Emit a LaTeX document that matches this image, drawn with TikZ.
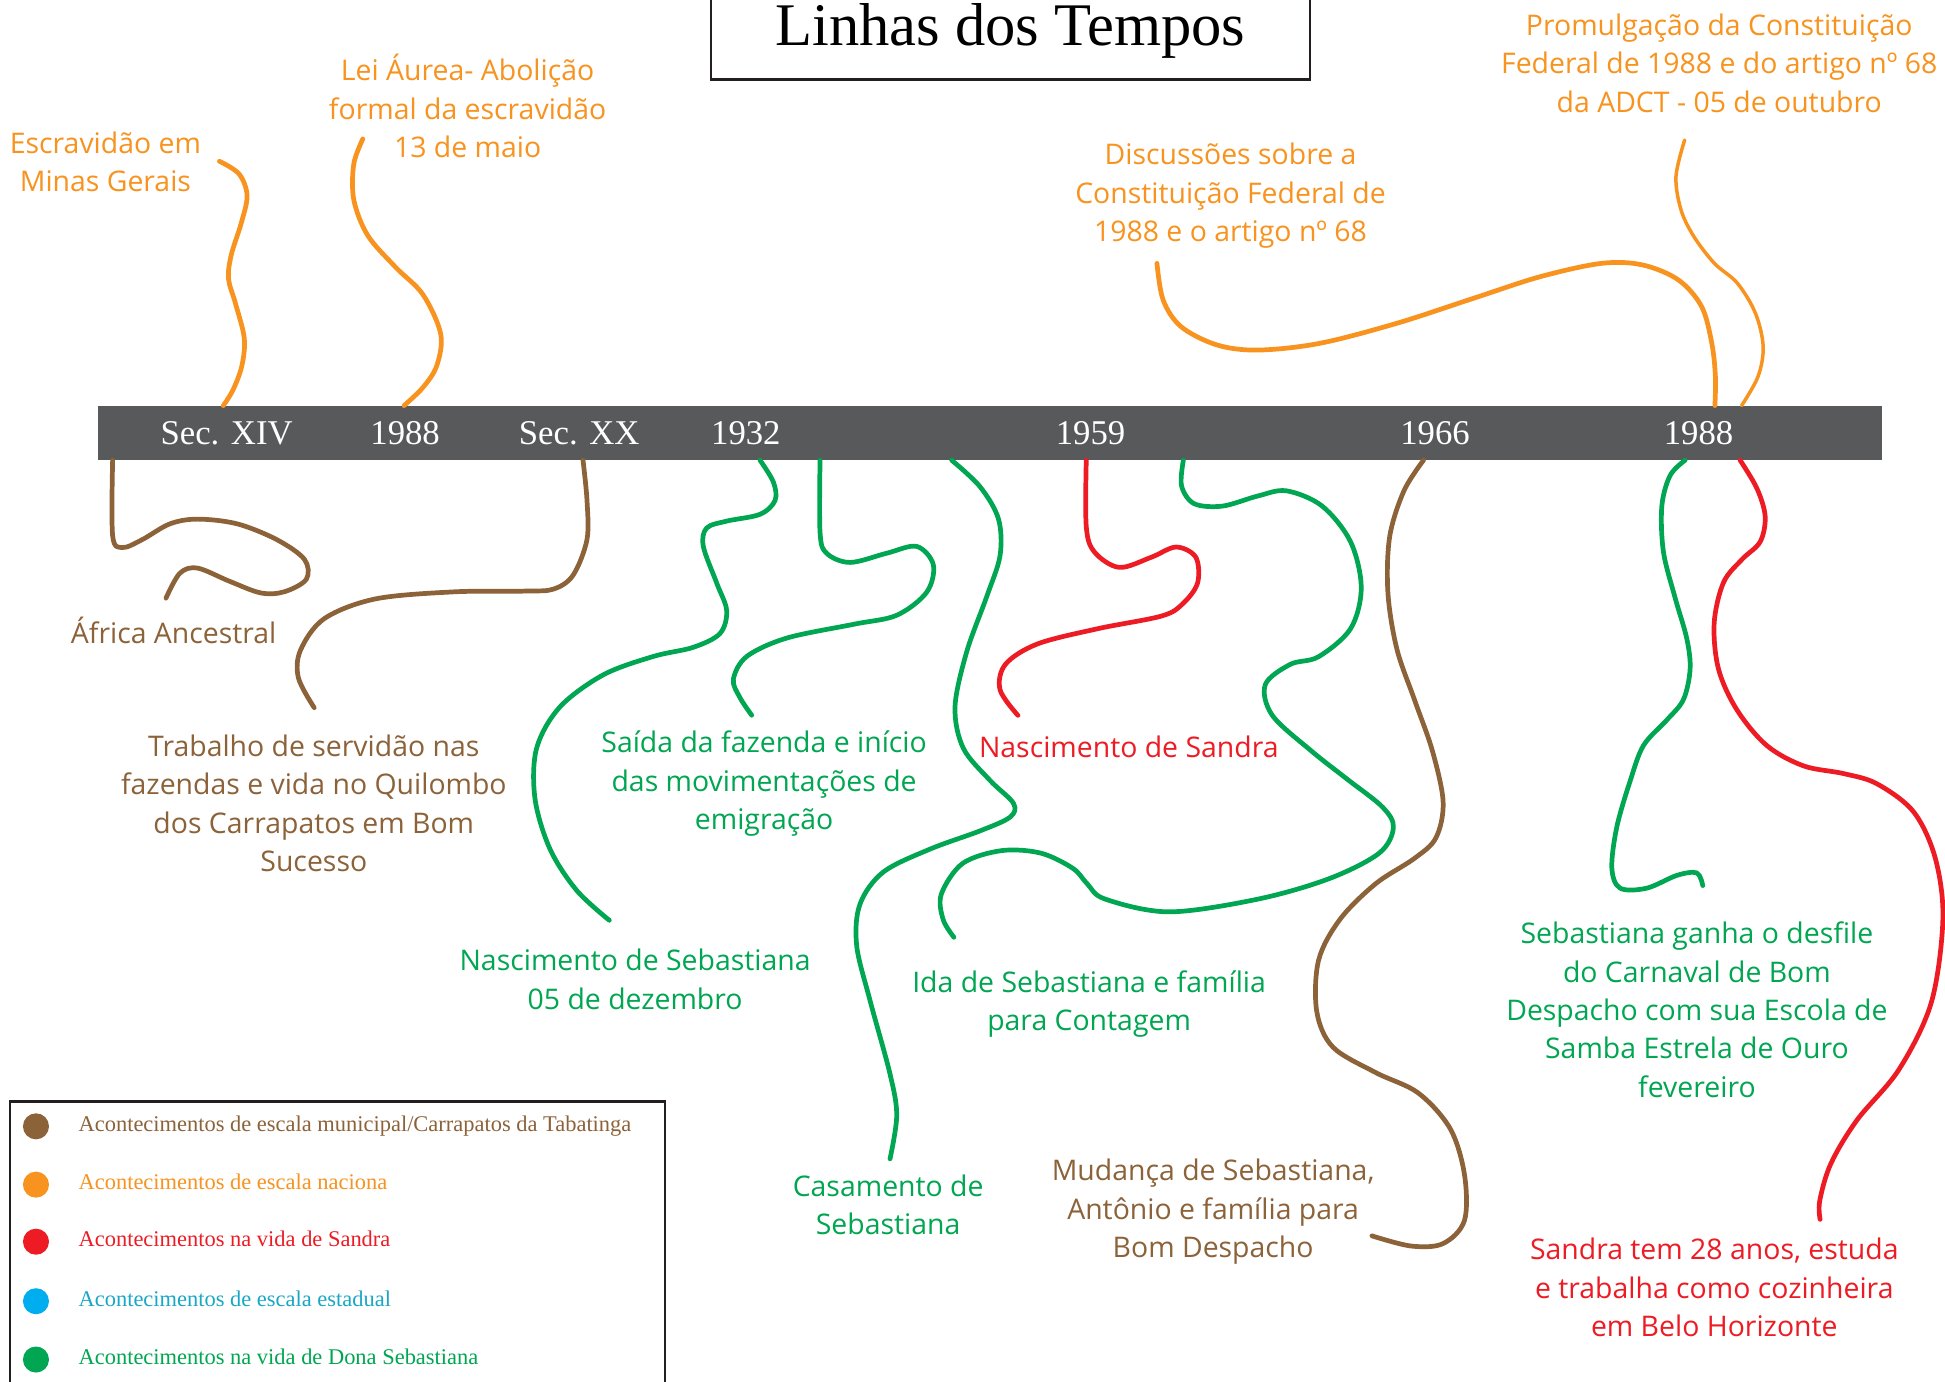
\documentclass[tikz,border=0pt]{standalone}
\usepackage{fontspec}
\setmainfont{Liberation Serif}
\newfontfamily\lblfont{Open Sans}
\definecolor{cbrown}{HTML}{8C6239}
\definecolor{corange}{HTML}{F7931E}
\definecolor{cred}{HTML}{ED1C24}
\definecolor{cgreen}{HTML}{00A651}
\definecolor{cblue}{HTML}{00AEEF}
\definecolor{cteal}{HTML}{1AA7C7}
\definecolor{cbar}{HTML}{58595B}
\definecolor{cframe}{HTML}{231F20}
\begin{document}
\begin{tikzpicture}[x=0.5pt,y=-0.5pt,
  wire/.style={line width=1.9pt,line cap=round,line join=round},
  thinwire/.style={line width=1.4pt,line cap=round,line join=round},
  lbl/.style={align=center,inner sep=0pt,font=\lblfont\fontsize{11.45}{15.5}\selectfont},
  yearlbl/.style={anchor=base,inner sep=0pt,text=white,font=\fontsize{14}{16}\selectfont},
  legtxt/.style={anchor=base west,inner sep=0pt,font=\fontsize{9.05}{10}\selectfont},
  legdot/.style={circle,minimum size=10.5pt,inner sep=0pt},
  sm/.style={smooth,tension=0.55}]
\useasboundingbox[fill=white] (0,0) rectangle (1568,1114);

% title
\node[draw=cframe,line width=1pt,minimum width=241.5pt,minimum height=39pt,inner sep=0pt,
  font=\fontsize{24.4}{28}\selectfont] (title) at (814.5,25) {Linhas dos Tempos};

% bar
\node[fill=cbar,minimum width=719pt,minimum height=22pt,inner sep=0pt] (bar) at (798,349) {};
\node[yearlbl] (y1) at (182.7,358) {Sec. XIV};
\node[yearlbl] (y2) at (326.6,358) {1988};
\node[yearlbl] (y3) at (466.9,358) {Sec. XX};
\node[yearlbl] (y4) at (601.3,358) {1932};
\node[yearlbl] (y5) at (879.2,358) {1959};
\node[yearlbl] (y6) at (1156.9,358) {1966};
\node[yearlbl] (y7) at (1369.3,358) {1988};

% labels
\node[lbl,text=corange] (t1) at (85,130.5) {Escravidão em\\Minas Gerais};
\node[lbl,text=corange] (t2) at (377,85.5) {Lei Áurea- Abolição\\formal da escravidão\\13 de maio};
\node[lbl,text=corange] (t3) at (992,158) {Discussões sobre a\\Constituição Federal de\\1988 e o artigo nº 68};
\node[lbl,text=corange] (t4) at (1386,51) {Promulgação da Constituição\\Federal de 1988 e do artigo nº 68\\da ADCT - 05 de outubro};
\node[lbl,text=cbrown] (t5) at (140,508) {África Ancestral};
\node[lbl,text=cbrown] (t6) at (253,647.5) {Trabalho de servidão nas\\fazendas e vida no Quilombo\\dos Carrapatos em Bom\\Sucesso};
\node[lbl,text=cgreen] (t7) at (616,632) {Saída da fazenda e início\\das movimentações de\\emigração};
\node[lbl,text=cred] (t8) at (910,602) {Nascimento de Sandra};
\node[lbl,text=cgreen] (t9) at (512,789.5) {Nascimento de Sebastiana\\05 de dezembro};
\node[lbl,text=cgreen] (t10) at (878,809.5) {Ida de Sebastiana e família\\para Contagem};
\node[lbl,text=cgreen] (t11) at (716,971.5) {Casamento de\\Sebastiana};
\node[lbl,text=cbrown] (t12) at (978,977) {Mudança de Sebastiana,\\Antônio e família para\\Bom Despacho};
\node[lbl,text=cgreen] (t13) at (1368,814) {Sebastiana ganha o desfile\\do Carnaval de Bom\\Despacho com sua Escola de\\Samba Estrela de Ouro\\fevereiro};
\node[lbl,text=cred] (t14) at (1382,1038) {Sandra tem 28 anos, estuda\\e trabalha como cozinheira\\em Belo Horizonte};

% connector end points
\coordinate (o1a) at (176.9,130);   \coordinate (o1b) at (180,327);
\coordinate (o2a) at (292.5,112);   \coordinate (o2b) at (325.7,327);
\coordinate (o3a) at (932.7,212.3); \coordinate (o3b) at (1382.5,327);
\coordinate (o4a) at (1358.1,112.9);\coordinate (o4b) at (1404,327);
\coordinate (b1a) at (90.8,371);    \coordinate (b1b) at (133.8,482.2);
\coordinate (b2a) at (470,371);     \coordinate (b2b) at (253.3,570.5);
\coordinate (g1a) at (612.7,371);   \coordinate (g1b) at (491.2,741.9);
\coordinate (g2a) at (661.1,371);   \coordinate (g2b) at (606,576.6);
\coordinate (g3a) at (767.2,371);   \coordinate (g3b) at (717.5,934.2);
\coordinate (r1a) at (875.7,371);   \coordinate (r1b) at (820.6,576.7);
\coordinate (g4a) at (954,371);     \coordinate (g4b) at (769,755.6);
\coordinate (b3a) at (1147.6,371);  \coordinate (b3b) at (1106,996.3);
\coordinate (g5a) at (1358.5,371);  \coordinate (g5b) at (1372.7,713.9);
\coordinate (r2a) at (1402.8,371);  \coordinate (r2b) at (1467.3,983);

% orange connectors (above)
\draw[wire,corange] plot[sm] coordinates {(o1a) (192.8,140.3) (199.2,157.8) (194.4,180.1) (186.4,205.6) (184.2,224.7) (189.6,243.8) (196.9,272.5) (195,294.8) (188,314) (o1b)};
\draw[wire,corange] plot[sm] coordinates {(o2a) (285.2,132.3) (285.2,161) (296.4,189.7) (318.7,215.2) (341,237.5) (355.3,269.3) (352.1,294.8) (341,312.3) (o2b)};
\draw[wire,corange] plot[sm] coordinates {(o3a) (937.7,241.9) (952.2,263.4) (981.1,278.1) (1014.2,282.2) (1063.8,276.8) (1125.8,260.7) (1187.8,240.5) (1241.5,223.1) (1291.1,212.3) (1324.2,213.6) (1353.1,225.7) (1371.8,247.2) (1380,276.8) (1382.9,303.7) (o3b)};
\draw[thinwire,corange] plot[sm] coordinates {(o4a) (1351.1,142.4) (1355.2,169.3) (1365.6,190.8) (1382.1,212.3) (1400.7,228.4) (1415.2,252.6) (1421.4,279.5) (1417.2,303.7) (o4b)};

% brown connectors
\draw[wire,cbrown] plot[sm] coordinates {(b1a) (90.8,431.9) (98.8,441.4) (114.7,435) (137,422.3) (159.3,418.5) (191.2,422.3) (223.1,435) (245.4,450.9) (247,466.9) (229.4,477) (210.3,478) (184.8,468.5) (159.3,458) (145,462.1) (b1b)};
\draw[wire,cbrown] plot[sm] coordinates {(b2a) (473.2,403.2) (473.2,435) (462,463.7) (446.2,474.9) (423.8,476.5) (366.5,477.1) (302.7,482.8) (261.3,498.8) (242.2,524.3) (240.6,546.6) (b2b)};
\draw[wire,cbrown] plot[sm] coordinates {(b3a) (1131.8,395.7) (1120.3,432.7) (1118.9,478) (1126.1,523.2) (1140.4,564.4) (1154.8,605.5) (1163.4,646.6) (1157.6,675.4) (1140.4,691.9) (1108.9,712.5) (1080.2,741.2) (1063,774.1) (1061.5,815.3) (1074.5,844.1) (1108.9,864.6) (1143.3,881.1) (1169.1,909.9) (1180.6,946.9) (1180.6,983.9) (1163.4,1002.5) (1137.6,1004.5) (b3b)};

% green connectors
\draw[wire,cgreen] plot[sm] coordinates {(g1a) (623.5,388.7) (624.8,403.5) (612.7,414.6) (585.8,420.1) (569.7,425.7) (567,440.5) (577.8,470.1) (585.8,492.2) (580.4,510.7) (559,521.8) (526.7,529.2) (486.4,544) (451.4,569.9) (432.6,603.2) (431.3,643.9) (443.4,684.5) (464.9,717.8) (g1b)};
\draw[wire,cgreen] plot[sm] coordinates {(g2a) (661.1,429.4) (666.4,446) (685.3,453.4) (714.8,446) (739,440.5) (752.4,455.3) (747.1,477.4) (722.9,496) (688,503.3) (634.2,514.4) (602,529.2) (591.2,547.7) (596.6,562.5) (g2b)};
\draw[wire,cgreen] plot[sm] coordinates {(g3a) (790.1,392.4) (804.9,418.3) (806.2,447.9) (795.4,481.1) (779.3,525.5) (769.9,569.9) (776.6,603.2) (798.1,629.1) (817,647.6) (814.3,658.7) (790.1,669.8) (749.8,684.5) (712.1,703) (693.3,728.9) (690.6,762.2) (701.4,806.6) (717.5,865.8) (722.9,899.1) (g3b)};
\draw[wire,cgreen] plot[sm] coordinates {(g4a) (952.5,391.6) (962.6,406) (985.5,408) (1014.2,399.8) (1037.2,395.7) (1065.9,408) (1088.8,436.8) (1097.4,473.9) (1088.8,506.8) (1063,529.4) (1040.1,535.6) (1020,552) (1025.7,576.7) (1057.3,605.5) (1086,628.1) (1114.6,650.7) (1123.3,667.2) (1111.8,687.8) (1071.6,708.3) (1014.2,724.8) (942.5,735.1) (890.9,724.8) (876.5,712.5) (865,700.1) (839.2,687.8) (807.7,685.7) (776.1,696) (758.9,720.7) (760.3,741.2) (g4b)};
\draw[wire,cgreen] plot[sm] coordinates {(g5a) (1346.4,383.3) (1339.7,408) (1341,444.9) (1350.4,481.9) (1359.8,514.7) (1362.5,539.4) (1357.1,564) (1343.7,580.5) (1324.9,601) (1314.1,629.8) (1303.4,666.7) (1299.4,699.6) (1306.1,716) (1327.6,716) (1351.8,705.7) (1367.9,703.7) (g5b)};

% red connectors
\draw[wire,cred] plot[sm] coordinates {(r1a) (875.7,424.5) (882.3,445) (902.3,457.4) (928.2,449.2) (948.2,441) (964,449.2) (965.5,469.8) (954,486.2) (936.8,496.5) (885.1,506.8) (836.4,519.1) (810.5,535.6) (806.2,556.1) (r1b)};
\draw[wire,cred] plot[sm] coordinates {(r2a) (1416.3,393.6) (1423,416.2) (1419,436.7) (1404.2,451.1) (1389.4,469.6) (1381.9,502.4) (1385.4,539.4) (1400.2,572.2) (1424.3,601) (1453.9,617.4) (1486.1,623.6) (1513,631.8) (1542.6,654.4) (1560,691.3) (1566.3,740.6) (1557,808) (1531,862) (1497,903) (1476,938) (1467,968) (r2b)};

% legend
\node[draw=cframe,line width=1pt,minimum width=264pt,minimum height=121pt,inner sep=0pt] (legend) at (272,1009) {};
\node[legdot,fill=cbrown]  (d1) at (29,908) {};
\node[legdot,fill=corange] (d2) at (29,955) {};
\node[legdot,fill=cred]    (d3) at (29,1001) {};
\node[legdot,fill=cblue]   (d4) at (29,1049) {};
\node[legdot,fill=cgreen]  (d5) at (29,1096) {};
\node[legtxt,text=cbrown]  (l1) at (63,912) {Acontecimentos de escala municipal/Carrapatos da Tabatinga};
\node[legtxt,text=corange] (l2) at (63,959) {Acontecimentos de escala naciona};
\node[legtxt,text=cred]    (l3) at (63,1005) {Acontecimentos na vida de Sandra};
\node[legtxt,text=cteal]   (l4) at (63,1053) {Acontecimentos de escala estadual};
\node[legtxt,text=cgreen]  (l5) at (63,1100) {Acontecimentos na vida de Dona Sebastiana};
\end{tikzpicture}
\end{document}
